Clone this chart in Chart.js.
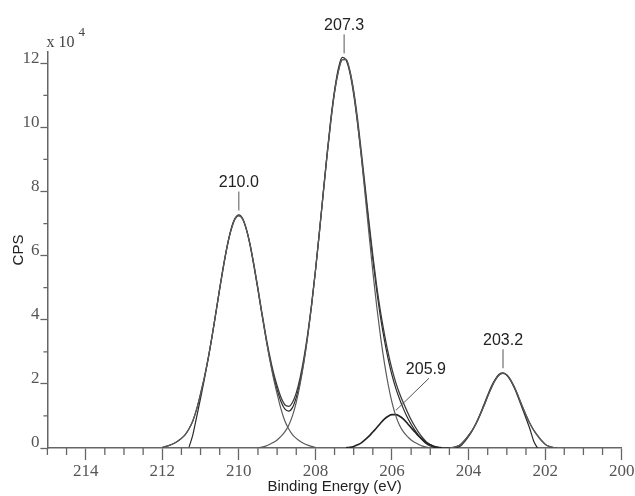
<!DOCTYPE html>
<html>
<head>
<meta charset="utf-8">
<script src="https://cdn.jsdelivr.net/npm/chart.js@4.4.1/dist/chart.umd.min.js"></script>
<style>
  html, body { margin: 0; padding: 0; background: #fff; }
  #wrap { width: 635px; height: 496px; }
</style>
</head>
<body>
<div id="wrap"><canvas id="xpsChart" width="635" height="496"></canvas></div>
<script>
// binding energy grid (eV), high -> low
const energy = [
  212.0, 211.9, 211.8, 211.7, 211.6, 211.5, 211.4, 211.3, 211.2, 211.1,
  211.0, 210.9, 210.8, 210.7, 210.6, 210.5, 210.4, 210.3, 210.2, 210.1,
  210.0, 209.9, 209.8, 209.7, 209.6, 209.5, 209.4, 209.3, 209.2, 209.1,
  209.0, 208.9, 208.8, 208.7, 208.6, 208.5, 208.4, 208.3, 208.2, 208.1,
  208.0, 207.9, 207.8, 207.7, 207.6, 207.5, 207.4, 207.3, 207.2, 207.1,
  207.0, 206.9, 206.8, 206.7, 206.6, 206.5, 206.4, 206.3, 206.2, 206.1,
  206.0, 205.9, 205.8, 205.7, 205.6, 205.5, 205.4, 205.3, 205.2, 205.1,
  205.0, 204.9, 204.8, 204.7, 204.6, 204.5, 204.4, 204.3, 204.2, 204.1,
  204.0, 203.9, 203.8, 203.7, 203.6, 203.5, 203.4, 203.3, 203.2, 203.1,
  203.0, 202.9, 202.8, 202.7, 202.6, 202.5, 202.4, 202.3, 202.2, 202.1,
  202.0, 201.9, 201.8, 201.7
];

// counts per second, x 10^4 ; each series starts at the energy given in *From
const peakAFrom = 212.0;
const peakA = [
  0.02, 0.05, 0.09, 0.14, 0.21, 0.30, 0.42, 0.60, 0.85, 1.22,
  1.69, 2.20, 2.80, 3.48, 4.21, 4.96, 5.67, 6.31, 6.81, 7.14,
  7.25, 7.14, 6.81, 6.31, 5.67, 4.96, 4.21, 3.48, 2.80, 2.20,
  1.69, 1.22, 0.85, 0.60, 0.42, 0.30, 0.21, 0.14, 0.09, 0.05,
  0.02
];

const peakBFrom = 209.5;
const peakB = [
  0.01, 0.03, 0.06, 0.11, 0.17,
  0.25, 0.36, 0.50, 0.70, 1.00, 1.42, 1.98, 2.67, 3.48, 4.43,
  5.50, 6.67, 7.88, 9.07, 10.17, 11.09, 11.75, 12.11, 12.11, 11.75,
  11.09, 10.17, 9.07, 7.88, 6.67, 5.50, 4.43, 3.48, 2.67, 1.98,
  1.42, 1.00, 0.70, 0.50, 0.36, 0.25, 0.17, 0.11, 0.06, 0.03,
  0.01
];

const peakCFrom = 207.2;
const peakC = [
  0.01, 0.02,
  0.05, 0.10, 0.16, 0.26, 0.37, 0.50, 0.63, 0.77, 0.90, 0.99,
  1.04, 1.04, 0.99, 0.90, 0.77, 0.63, 0.50, 0.37, 0.26, 0.16,
  0.10, 0.05, 0.02, 0.01
];

const peakDFrom = 204.5;
const peakD = [
  0.01, 0.02, 0.05, 0.12, 0.24,
  0.39, 0.56, 0.77, 1.03, 1.31, 1.61, 1.89, 2.12, 2.28, 2.33,
  2.28, 2.12, 1.89, 1.61, 1.31, 1.03, 0.77, 0.56, 0.39, 0.24,
  0.12, 0.05, 0.02, 0.01
];

const envelopeFrom = 212.0;
const envelope = [
  0.02, 0.05, 0.09, 0.14, 0.21, 0.30, 0.42, 0.60, 0.85, 1.22,
  1.69, 2.20, 2.80, 3.48, 4.21, 4.96, 5.67, 6.31, 6.81, 7.14,
  7.25, 7.14, 6.81, 6.31, 5.67, 4.97, 4.24, 3.54, 2.91, 2.37,
  1.94, 1.58, 1.35, 1.30, 1.42, 1.72, 2.19, 2.81, 3.57, 4.48,
  5.52, 6.67, 7.88, 9.07, 10.17, 11.09, 11.75, 12.11, 12.12, 11.77,
  11.14, 10.27, 9.23, 8.14, 7.04, 6.00, 5.06, 4.25, 3.57, 2.97,
  2.46, 2.04, 1.69, 1.40, 1.13, 0.88, 0.67, 0.48, 0.32, 0.19,
  0.11, 0.05, 0.02, 0.01, 0.00, 0.01, 0.02, 0.05, 0.12, 0.24,
  0.39, 0.56, 0.77, 1.03, 1.31, 1.61, 1.89, 2.12, 2.28, 2.33,
  2.28, 2.12, 1.89, 1.61, 1.31, 1.03, 0.77, 0.56, 0.39, 0.24,
  0.12, 0.05, 0.02, 0.01
];

const measuredFrom = 211.3;
const measured = [
  0.03, 0.42, 0.98,
  1.55, 2.15, 2.78, 3.47, 4.22, 4.98, 5.70, 6.33, 6.84, 7.16,
  7.27, 7.15, 6.80, 6.28, 5.63, 4.92, 4.18, 3.48, 2.84, 2.28,
  1.82, 1.45, 1.22, 1.15, 1.26, 1.58, 2.07, 2.72, 3.52, 4.46,
  5.52, 6.70, 7.92, 9.12, 10.24, 11.16, 11.84, 12.18, 12.10, 11.70,
  11.02, 10.12, 9.10, 8.02, 6.92, 5.88, 4.92, 4.08, 3.38, 2.78,
  2.27, 1.86, 1.52, 1.22, 0.96, 0.74, 0.55, 0.38, 0.24, 0.13,
  0.06, 0.02, 0.01, 0.00, 0.00, 0.00, 0.01, 0.02, 0.07, 0.20,
  0.36, 0.55, 0.78, 1.05, 1.35, 1.65, 1.93, 2.15, 2.30, 2.34,
  2.27, 2.10, 1.86, 1.57, 1.25, 0.93, 0.60, 0.22, 0.00
];

// axis ticks
const xTicks = [200, 202, 204, 206, 208, 210, 212, 214];
const yTicks = [0, 2, 4, 6, 8, 10, 12];

// peak labels
const peakLabels = ['210.0', '207.3', '205.9', '203.2'];
const peakEnergy = [210.0, 207.25, 205.95, 203.1];
const peakCps = [7.25, 12.15, 1.05, 2.33];

function toPoints(values, from) {
  const start = energy.indexOf(from);
  return values.map((v, i) => ({ x: energy[start + i], y: v }));
}

function curve(values, from, color, width) {
  return {
    data: toPoints(values, from),
    borderColor: color,
    borderWidth: width,
    pointRadius: 0,
    fill: false,
    cubicInterpolationMode: 'monotone'
  };
}

const serif = '"Liberation Serif", "Times New Roman", serif';
const sans = '"Liberation Sans", Arial, sans-serif';

const extras = {
  id: 'extras',
  afterDatasetsDraw(chart) {
    const { ctx, chartArea, scales: { x, y } } = chart;
    ctx.save();

    // minor ticks
    ctx.strokeStyle = '#666';
    ctx.lineWidth = 1.3;
    ctx.beginPath();
    for (let v = 200.5; v <= 215; v += 0.5) {
      if (v % 2 === 0) continue;
      const px = x.getPixelForValue(v);
      ctx.moveTo(px, chartArea.bottom);
      ctx.lineTo(px, chartArea.bottom + 7);
    }
    for (let v = 1; v <= 11; v += 2) {
      const py = y.getPixelForValue(v);
      ctx.moveTo(chartArea.left, py);
      ctx.lineTo(chartArea.left - 4, py);
    }
    ctx.stroke();

    // x 10^4 multiplier
    ctx.fillStyle = '#444';
    ctx.textBaseline = 'middle';
    ctx.textAlign = 'left';
    ctx.font = '16px ' + serif;
    ctx.fillText('x 10', chartArea.left - 1, chartArea.top - 9);
    const w = ctx.measureText('x 10').width;
    ctx.font = '13px ' + serif;
    ctx.fillText('4', chartArea.left + w + 3, chartArea.top - 19);

    // peak labels with leader lines
    ctx.strokeStyle = '#555';
    ctx.lineWidth = 1;
    ctx.fillStyle = '#222';
    ctx.font = '16px ' + sans;
    ctx.textAlign = 'center';
    peakLabels.forEach((label, i) => {
      const px = x.getPixelForValue(peakEnergy[i]);
      const py = y.getPixelForValue(peakCps[i]);
      ctx.beginPath();
      if (i === 2) {
        ctx.moveTo(px + 2, py - 4);
        ctx.lineTo(px + 35, py - 36);
        ctx.stroke();
        ctx.fillText(label, px + 32, py - 45);
      } else {
        ctx.moveTo(px, py - 5);
        ctx.lineTo(px, py - 24);
        ctx.stroke();
        ctx.fillText(label, px, py - 33);
      }
    });
    ctx.restore();
  }
};

new Chart(document.getElementById('xpsChart'), {
  type: 'line',
  data: {
    datasets: [
      curve(peakA, peakAFrom, '#5a5a5a', 1.2),
      curve(peakB, peakBFrom, '#5a5a5a', 1.2),
      curve(peakC, peakCFrom, '#222', 1.6),
      curve(peakD, peakDFrom, '#5a5a5a', 1.2),
      curve(envelope, envelopeFrom, '#3c3c3c', 1.3),
      curve(measured, measuredFrom, '#2a2a2a', 1.2)
    ]
  },
  options: {
    responsive: false,
    animation: false,
    devicePixelRatio: 1,
    layout: { padding: { top: 52, right: 13.3, left: 0, bottom: 0 } },
    plugins: {
      legend: { display: false },
      tooltip: { enabled: false }
    },
    scales: {
      x: {
        type: 'linear',
        reverse: true,
        min: 200,
        max: 215,
        afterBuildTicks: s => { s.ticks = xTicks.map(v => ({ value: v })); },
        afterFit: s => { s.height = 48; s.paddingLeft = 0; s.paddingRight = 0; },
        ticks: {
          autoSkip: false,
          maxRotation: 0,
          padding: 1,
          color: '#555',
          font: { family: serif, size: 17 }
        },
        grid: { drawOnChartArea: false, drawTicks: true, tickLength: 12, tickColor: '#666', tickWidth: 1.3 },
        border: { display: true, color: '#666', width: 1.5 },
        title: {
          display: true,
          text: 'Binding Energy (eV)',
          color: '#222',
          font: { family: sans, size: 15 },
          padding: { top: 0, bottom: 0 }
        }
      },
      y: {
        min: 0,
        max: 12.35,
        afterBuildTicks: s => { s.ticks = yTicks.map(v => ({ value: v })); },
        afterFit: s => { s.width = 47.4; s.paddingTop = 0; s.paddingBottom = 0; },
        ticks: {
          labelOffset: -5,
          padding: 1,
          color: '#555',
          font: { family: serif, size: 17 }
        },
        grid: { drawOnChartArea: false, drawTicks: true, tickLength: 7, tickColor: '#666', tickWidth: 1.3 },
        border: { display: true, color: '#666', width: 1.5 },
        title: {
          display: true,
          text: 'CPS',
          color: '#222',
          font: { family: sans, size: 15 },
          padding: { top: 10, bottom: 0 }
        }
      }
    }
  },
  plugins: [extras]
});
</script>
</body>
</html>
